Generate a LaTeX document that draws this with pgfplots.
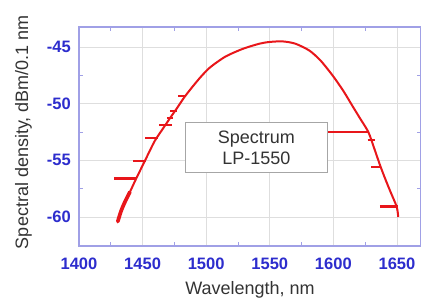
\documentclass[border=0pt]{standalone}
\usepackage{pgfplots}
\pgfplotsset{compat=1.18}
\usepackage{fontspec}
\setmainfont{Liberation Sans}
\definecolor{tickblue}{RGB}{45,45,205}
\definecolor{axisblue}{RGB}{160,160,230}
\definecolor{gridgray}{RGB}{222,222,222}
\definecolor{curvered}{RGB}{232,22,26}
\begin{document}
\begin{tikzpicture}
\useasboundingbox (-59.25pt,-40.5pt) rectangle (256.5pt,184.5pt);
\begin{axis}[
  at={(0,0)}, anchor=south west,
  scale only axis, width=256.5pt, height=164.25pt,
  xmin=1400, xmax=1668.9, ymin=-62.56, ymax=-43.23,
  xtick={1400,1450,1500,1550,1600,1650},
  ytick={-60,-55,-50,-45},
  minor x tick num=1, minor y tick num=1,
  tick align=inside, tick pos=both,
  major tick length=0pt, minor tick length=3pt,
  every tick/.style={axisblue, line width=0.6pt},
  grid=major,
  major grid style={gridgray, line width=0.6pt},
  axis line style={axisblue, line width=0.8pt},
  /pgf/number format/assume math mode=true,
  /pgf/number format/1000 sep={},
  xticklabel style={anchor=north, inner sep=0pt, yshift=-9pt, text=tickblue, font=\fontsize{12.4}{14}\selectfont\bfseries},
  yticklabel style={anchor=east, inner sep=0pt, xshift=-6pt, text=tickblue, font=\fontsize{12.4}{14}\selectfont\bfseries},
  xlabel={Wavelength, nm},
  ylabel={Spectral density, dBm/0.1 nm},
  xlabel style={at={(axis description cs:0.5,-0.201)}, anchor=center, font=\fontsize{13.5}{15}\selectfont, text=black!80},
  ylabel style={at={(axis description cs:-0.162,0.52)}, anchor=center, font=\fontsize{13.5}{15}\selectfont, text=black!80},
  unbounded coords=jump,
]
% main spectrum curve
\addplot[curvered, line width=1.5pt, line join=round, smooth, tension=0.45] coordinates {
(1430.5,-60.4) (1433,-59.5) (1436,-58.7) (1440,-57.8) (1445,-56.6)
(1452,-55.0) (1459.5,-53.3) (1466,-52.2) (1472,-51.2) (1477,-50.4)
(1483,-49.4) (1490,-48.4) (1496,-47.6) (1503,-46.8) (1515,-45.85)
(1529,-45.15) (1542,-44.7) (1550,-44.55) (1560,-44.5) (1570,-44.7)
(1581,-45.3) (1590,-46.2) (1600,-47.6) (1608,-48.9) (1615,-50.2)
(1621,-51.3) (1627.5,-52.5) (1632,-53.9) (1636.6,-55.4) (1641,-56.7)
(1645,-57.8) (1649.8,-59.1) (1651,-60.0)
};
% thicker lower-left part
\addplot[curvered, line width=2.8pt, line cap=round, smooth] coordinates {
(1430.5,-60.4) (1433,-59.5) (1436,-58.7) (1440,-57.8)
};
% horizontal stubs
\addplot[curvered, line width=1.4pt] coordinates {
(1442.7,-55.06) (1453,-55.06) (nan,nan)
(1452,-53.0) (1462,-53.0) (nan,nan)
(1463,-51.88) (1473,-51.88) (nan,nan)
(1469,-51.29) (1474,-51.29) (nan,nan)
(1471.5,-50.65) (1477,-50.65) (nan,nan)
(1478,-49.3) (1483,-49.3) (nan,nan)
(1627,-53.2) (1632.5,-53.2) (nan,nan)
(1629.6,-55.56) (1636.6,-55.56)
};
\addplot[curvered, line width=2.2pt] coordinates {
(1427.8,-56.59) (1445,-56.59) (nan,nan)
(1636.6,-59.1) (1650.8,-59.1)
};
% connector to legend box
\addplot[curvered, line width=1.6pt] coordinates {(1595.8,-52.48) (1627.5,-52.48)};
\node[draw=black!35, line width=0.6pt, fill=white, minimum width=107pt, minimum height=37pt,
  align=center, inner sep=2pt, text=black!80,
  font=\fontsize{13.5}{16}\selectfont] at (axis cs:1539.5,-53.87) {Spectrum\\LP-1550};
\end{axis}
\end{tikzpicture}
\end{document}
